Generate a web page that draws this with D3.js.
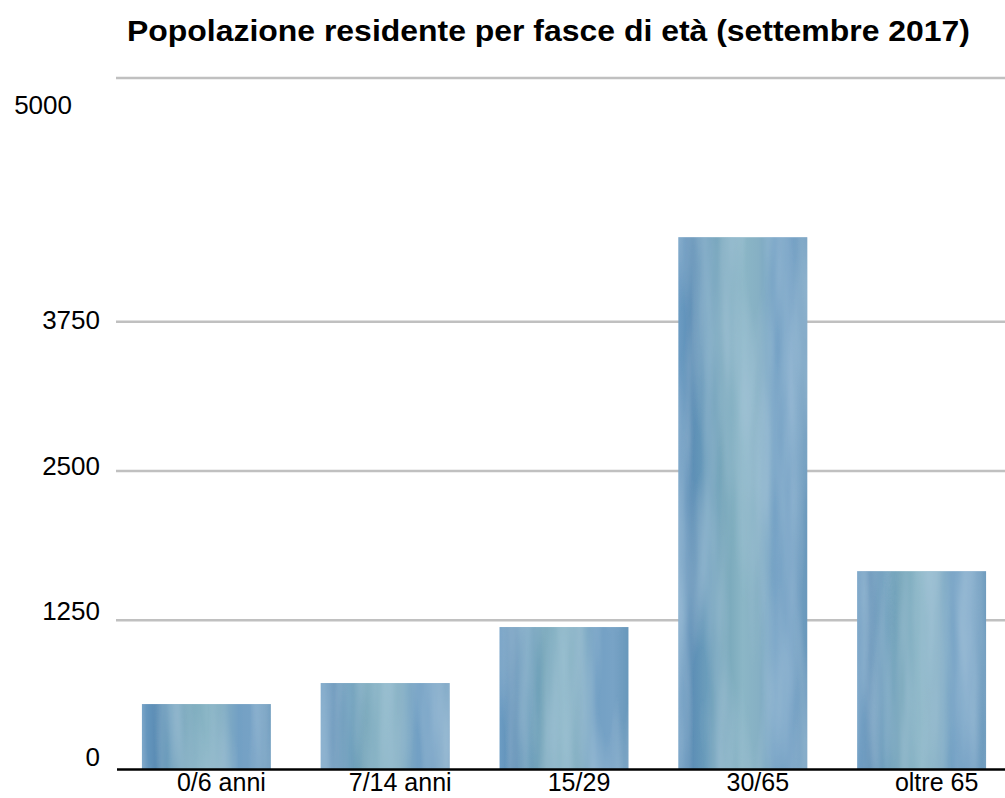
<!DOCTYPE html>
<html>
<head>
<meta charset="utf-8">
<script src="https://cdn.jsdelivr.net/npm/d3@7"></script>
<style>
  body { margin: 0; background: #fff; }
  text { font-family: "Liberation Sans", Arial, sans-serif; fill: #000; }
</style>
</head>
<body>
<svg id="chart" width="1005" height="798"></svg>
<script>
"use strict";

const categories = ["0/6 anni", "7/14 anni", "15/29", "30/65", "oltre 65"];
const residents = [548, 724, 1193, 4458, 1661];
const tickValues = [0, 1250, 2500, 3750, 5000];
const titleText = "Popolazione residente per fasce di età (settembre 2017)";

const plotLeft = 116;
const plotRight = 1005;
const plotTop = 78;
const baseY = 769.5;

const svg = d3.select("svg#chart");

// data to SVG coordinate transforms
const xScale = d3.scaleBand()
    .domain(categories)
    .range([plotLeft, 1012])
    .paddingInner(0.279)
    .paddingOuter(0.145);

const yScale = d3.scaleLinear()
    .domain([0, 5000])
    .range([baseY, 172.5]);

// tick labels sit a little off their gridlines in the original
const labelScale = d3.scaleLinear()
    .domain([0, 3750])
    .range([766, 329]);

// watercolour-like fill for the bars
const defs = svg.append("defs");
const grad = defs.append("linearGradient")
    .attr("id", "bar-grad")
    .attr("x1", 0).attr("x2", 1).attr("y1", 0).attr("y2", 0);
const stops = [
    [0, "#6c9cc3"], [0.1, "#5b8db5"], [0.22, "#6b9dbb"], [0.35, "#74a5b8"],
    [0.5, "#8bb6c6"], [0.62, "#86b0c4"], [0.75, "#72a0c4"], [0.88, "#78a3c6"], [1, "#6998bb"]
];
grad.selectAll("stop")
    .data(stops)
    .join("stop")
    .attr("offset", d => d[0])
    .attr("stop-color", d => d[1]);

const filt = defs.append("filter")
    .attr("id", "wash")
    .attr("x", 0).attr("y", 0).attr("width", 1).attr("height", 1);
filt.append("feTurbulence")
    .attr("type", "fractalNoise")
    .attr("baseFrequency", "0.035 0.004")
    .attr("numOctaves", 3)
    .attr("seed", 4)
    .attr("result", "noise");
filt.append("feColorMatrix")
    .attr("in", "noise")
    .attr("type", "matrix")
    .attr("values", "0 0 0 0 0.42  0 0 0 0 0.6  0 0 0 0 0.74  1.1 0 0 0 -0.35")
    .attr("result", "tint");
filt.append("feComposite")
    .attr("in", "tint")
    .attr("in2", "SourceGraphic")
    .attr("operator", "in")
    .attr("result", "tintIn");
const merge = filt.append("feMerge");
merge.append("feMergeNode").attr("in", "SourceGraphic");
merge.append("feMergeNode").attr("in", "tintIn");

// title
svg.append("text")
    .attr("x", 548.5)
    .attr("y", 41)
    .attr("text-anchor", "middle")
    .attr("textLength", 843)
    .attr("lengthAdjust", "spacingAndGlyphs")
    .style("font-size", "30px")
    .style("font-weight", "bold")
    .text(titleText);

// gridlines (the top one closes the plot area)
const gridTicks = tickValues.filter(t => t > 0);
svg.selectAll("line.grid")
    .data(gridTicks)
    .join("line")
    .attr("class", "grid")
    .attr("x1", plotLeft)
    .attr("x2", plotRight)
    .attr("y1", d => d === 5000 ? plotTop : yScale(d))
    .attr("y2", d => d === 5000 ? plotTop : yScale(d))
    .style("stroke", "#c0c0c0")
    .style("stroke-width", 2.5);

// y labels
svg.selectAll("text.ylab")
    .data(tickValues)
    .join("text")
    .attr("class", "ylab")
    .attr("x", d => d === 5000 ? 72 : 100)
    .attr("y", d => d === 5000 ? 114 : labelScale(d))
    .attr("text-anchor", "end")
    .style("font-size", "26px")
    .text(d => d);

// bars
svg.selectAll("rect.bar")
    .data(residents)
    .join("rect")
    .attr("class", "bar")
    .attr("x", (d, i) => xScale(categories[i]))
    .attr("y", d => yScale(d))
    .attr("width", xScale.bandwidth())
    .attr("height", d => baseY - yScale(d))
    .style("fill", "url(#bar-grad)")
    .attr("filter", "url(#wash)");

// baseline
svg.append("line")
    .attr("x1", plotLeft + 1)
    .attr("x2", plotRight)
    .attr("y1", baseY)
    .attr("y2", baseY)
    .style("stroke", "#000")
    .style("stroke-width", 2.5);

// category labels
svg.selectAll("text.xlab")
    .data(categories)
    .join("text")
    .attr("class", "xlab")
    .attr("x", d => xScale(d) + xScale.bandwidth() / 2 + 15)
    .attr("y", 791)
    .attr("text-anchor", "middle")
    .style("font-size", "25px")
    .text(d => d);
</script>
</body>
</html>
